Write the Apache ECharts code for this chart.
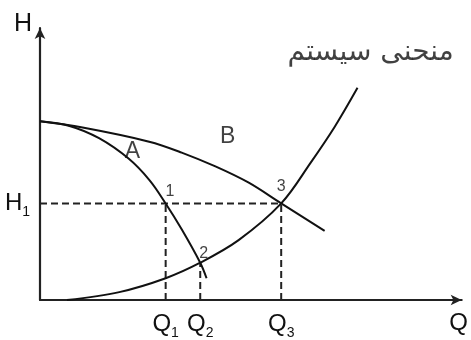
<!DOCTYPE html>
<html><head><meta charset="utf-8">
<script src="https://cdn.jsdelivr.net/npm/echarts@6/dist/echarts.min.js"></script>
<style>html,body{margin:0;padding:0;background:#fff}#c{width:471px;height:340px}</style>
</head><body><div id="c"></div>
<script>
// Pump curves A, B and the system curve (Q, H in arbitrary units)
const curveA = [[0,65.7],[7,64],[14,59.5],[21,52],[26,44],[29.8,35.5],[33.6,26],[38,13.7],[39.5,8]];
const curveB = [[0,65.7],[10.1,63.4],[25.9,58.2],[33.6,54.2],[41.6,49.1],[49.4,43.2],[57.2,35.5],[67.5,25.4]];
const systemCurve = [[6.4,0],[18.8,2.9],[29.8,8],[38,13.7],[47.1,22],[57.2,35.5],[64.2,50.5],[69.9,63.7],[75.3,78]];
const Q1 = 29.8, Q2 = 38, Q3 = 57.2, H1 = 35.5, H2 = 13.7;
const xTickValues = [Q1, Q2, Q3];
const xTickLabels = ['Q|1', 'Q|2', 'Q|3'];
const yTickValues = [H1];
const yTickLabels = ['H|1'];
const guideH1 = [[0, H1], [Q3, H1]];
const guideQ1 = [[Q1, 0], [Q1, H1]];
const guideQ2 = [[Q2, 0], [Q2, H2]];
const guideQ3 = [[Q3, 0], [Q3, H1]];
const curveLabels = [[21.9, 54.6, 'A'], [44.5, 60.1, 'B']];
const pointLabels = [[30.8, 39.9, '1'], [38.8, 17.2, '2'], [57.2, 41.8, '3']];
const systemLabel = [[78.4, 91.0, 'منحنی سیستم']];

const INK = '#111';
const FONT = 'Liberation Sans, Arial, sans-serif';
const subRich = {
  m: {fontSize: 24, fontFamily: FONT, color: INK},
  s: {fontSize: 14, fontFamily: FONT, color: INK, verticalAlign: 'top', padding: [18, 0, 0, 0]}
};
function tickFmt(values, labels) {
  return function (v) {
    let i = values.findIndex(x => Math.abs(x - v) < 1e-6);
    if (i < 0) return '';
    const parts = labels[i].split('|');
    return '{m|' + parts[0] + '}{s|' + parts[1] + '}';
  };
}
const lineS = (data) => ({type: 'line', data, smooth: 0.35, symbol: 'none', silent: true,
  lineStyle: {color: INK, width: 2}});
const guideS = (data) => ({type: 'line', data, symbol: 'none', silent: true,
  lineStyle: {color: '#222', width: 2, type: [7, 4]}});
const textS = (data, size, family) => ({type: 'scatter', data, symbolSize: 0, silent: true,
  label: {show: true, position: 'inside', formatter: p => p.data[2], fontSize: size,
    fontFamily: family, color: INK}});

const chart = echarts.init(document.getElementById('c'), null, {renderer: 'canvas'});
chart.setOption({
  animation: false,
  backgroundColor: '#fff',
  grid: {left: 40, right: 6, top: 28, bottom: 39},
  xAxis: {
    type: 'value', min: 0, max: 100,
    splitLine: {show: false}, axisTick: {show: false},
    axisLine: {onZero: false, symbol: ['none', 'arrow'], symbolSize: [8, 11],
      lineStyle: {color: '#222', width: 2.2}},
    axisLabel: {customValues: xTickValues, formatter: tickFmt(xTickValues, xTickLabels),
      rich: subRich, margin: 8},
    name: 'Q', nameLocation: 'end', nameGap: -3,
    nameTextStyle: {fontSize: 24, fontFamily: FONT, color: INK, align: 'center',
      verticalAlign: 'top', padding: [11, 0, 0, 0]}
  },
  yAxis: {
    type: 'value', min: 0, max: 100,
    splitLine: {show: false}, axisTick: {show: false},
    axisLine: {onZero: false, symbol: ['none', 'arrow'], symbolSize: [8, 11],
      lineStyle: {color: '#222', width: 2.2}},
    axisLabel: {customValues: yTickValues, formatter: tickFmt(yTickValues, yTickLabels),
      rich: subRich, margin: 10},
    name: 'H', nameLocation: 'end', nameGap: 4,
    nameTextStyle: {fontSize: 25, fontFamily: FONT, color: INK, align: 'right',
      verticalAlign: 'middle', padding: [0, 8, 0, 0]}
  },
  series: [
    guideS(guideH1), guideS(guideQ1), guideS(guideQ2), guideS(guideQ3),
    lineS(curveA), lineS(curveB), lineS(systemCurve),
    textS(curveLabels, 23, FONT),
    textS(pointLabels, 16, FONT),
    textS(systemLabel, 28, 'DejaVu Sans')
  ]
});
</script></body></html>
